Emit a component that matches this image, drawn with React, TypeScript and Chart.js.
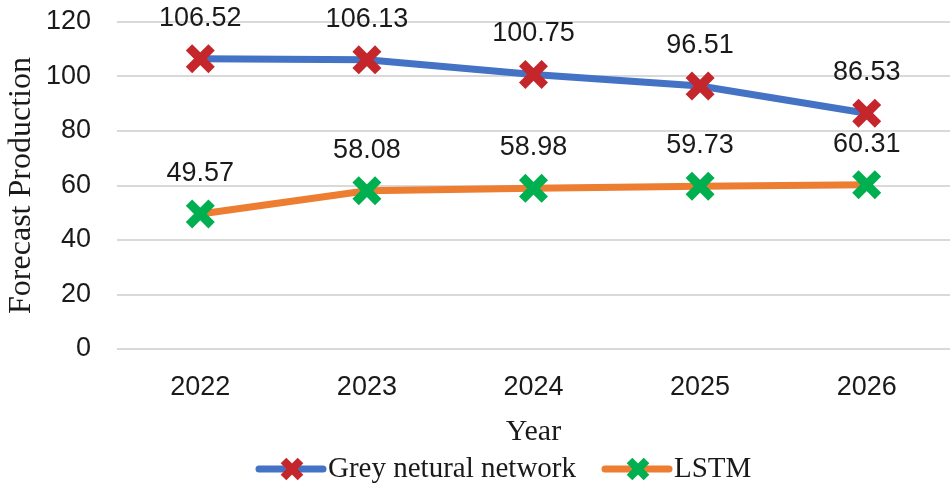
import { useEffect, useRef } from "react";
import { Chart, registerables } from "chart.js";

Chart.register(...registerables);

const years = ["2022", "2023", "2024", "2025", "2026"];
const greyNN = [106.52, 106.13, 100.75, 96.51, 86.53];
const lstm = [49.57, 58.08, 58.98, 59.73, 60.31];
const seriesNames = ["Grey netural network", "LSTM"];
const lineColors = ["#4472C4", "#ED7D31"];
const markerColors = ["#C4262B", "#00B050"];
const yMin = 0;
const yMax = 120;
const yStep = 20;

const SANS = '"Liberation Sans", Arial, sans-serif';
const SERIF = '"Liberation Serif", "Times New Roman", serif';

const dataLabelPlugin = {
  id: "dataLabels",
  afterDatasetsDraw(chart: any) {
    const ctx = chart.ctx;
    ctx.save();
    ctx.font = `27px ${SANS}`;
    ctx.fillStyle = "#1a1a1a";
    ctx.textAlign = "center";
    ctx.textBaseline = "alphabetic";
    chart.data.datasets.forEach((ds: any, i: number) => {
      const meta = chart.getDatasetMeta(i);
      meta.data.forEach((pt: any, j: number) => {
        const v = ds.data[j] as number;
        ctx.fillText(v.toFixed(2), pt.x, pt.y - 33);
      });
    });
    ctx.restore();
  },
};

const drawX = (ctx: CanvasRenderingContext2D, x: number, y: number, r: number, w: number, color: string) => {
  const d = r * Math.SQRT1_2;
  ctx.save();
  ctx.strokeStyle = color;
  ctx.lineWidth = w;
  ctx.lineCap = "butt";
  ctx.beginPath();
  ctx.moveTo(x - d, y - d);
  ctx.lineTo(x + d, y + d);
  ctx.moveTo(x - d, y + d);
  ctx.lineTo(x + d, y - d);
  ctx.stroke();
  ctx.restore();
};

const legendPlugin = {
  id: "customLegend",
  afterDraw(chart: any) {
    const ctx = chart.ctx as CanvasRenderingContext2D;
    const y = 469;
    const starts = [256, 602];
    ctx.save();
    ctx.font = `29px ${SERIF}`;
    ctx.fillStyle = "#1a1a1a";
    ctx.textAlign = "left";
    ctx.textBaseline = "middle";
    seriesNames.forEach((name, i) => {
      const x0 = starts[i];
      ctx.strokeStyle = lineColors[i];
      ctx.lineWidth = 7;
      ctx.lineCap = "round";
      ctx.beginPath();
      ctx.moveTo(x0 + 3, y);
      ctx.lineTo(x0 + 67, y);
      ctx.stroke();
      drawX(ctx, x0 + 36, y, 12, 8, markerColors[i]);
      ctx.fillText(name, x0 + 72, y);
    });
    ctx.restore();
  },
};

export default function App() {
  const canvasRef = useRef<HTMLCanvasElement | null>(null);

  useEffect(() => {
    document.body.style.margin = "0";
    const canvas = canvasRef.current;
    if (!canvas) return;
    const chart = new Chart(canvas, {
      type: "line",
      data: {
        labels: years,
        datasets: [
          {
            label: seriesNames[0],
            data: greyNN,
            borderColor: lineColors[0],
            backgroundColor: lineColors[0],
            borderWidth: 7,
            tension: 0,
            pointStyle: "crossRot",
            pointRadius: 16,
            pointBorderWidth: 9,
            pointBorderColor: markerColors[0],
            pointBackgroundColor: markerColors[0],
          },
          {
            label: seriesNames[1],
            data: lstm,
            borderColor: lineColors[1],
            backgroundColor: lineColors[1],
            borderWidth: 7,
            tension: 0,
            pointStyle: "crossRot",
            pointRadius: 16,
            pointBorderWidth: 9,
            pointBorderColor: markerColors[1],
            pointBackgroundColor: markerColors[1],
          },
        ],
      },
      options: {
        responsive: false,
        animation: false,
        events: [],
        layout: { autoPadding: false, padding: { top: 22, right: 0, bottom: 36, left: 0 } },
        plugins: {
          legend: { display: false },
          tooltip: { enabled: false },
        },
        scales: {
          x: {
            offset: true,
            grid: { display: false, drawTicks: false },
            border: { display: false },
            ticks: { font: { family: SANS, size: 27 }, color: "#1a1a1a", padding: 22 },
            title: {
              display: true,
              text: "Year",
              font: { family: SERIF, size: 30 },
              color: "#1a1a1a",
              padding: { top: 0, bottom: -1 },
            },
            afterFit: (s: any) => {
              s.height = 100;
            },
          },
          y: {
            min: yMin,
            max: yMax,
            ticks: { stepSize: yStep, font: { family: SANS, size: 27 }, color: "#1a1a1a", padding: 0 },
            grid: {
              color: "#d9d9d9",
              lineWidth: 2,
              drawTicks: true,
              tickLength: 26,
              tickColor: "rgba(0,0,0,0)",
            },
            border: { display: false },
            title: {
              display: true,
              text: "Forecast Production",
              font: { family: SERIF, size: 32 },
              color: "#1a1a1a",
              padding: { top: 2, bottom: 0 },
            },
            afterFit: (s: any) => {
              s.width = 117;
            },
          },
        },
      },
      plugins: [dataLabelPlugin, legendPlugin],
    });
    return () => chart.destroy();
  }, []);

  return (
    <div style={{ width: 950, height: 485 }}>
      <canvas ref={canvasRef} width={950} height={485} style={{ display: "block" }} />
    </div>
  );
}
